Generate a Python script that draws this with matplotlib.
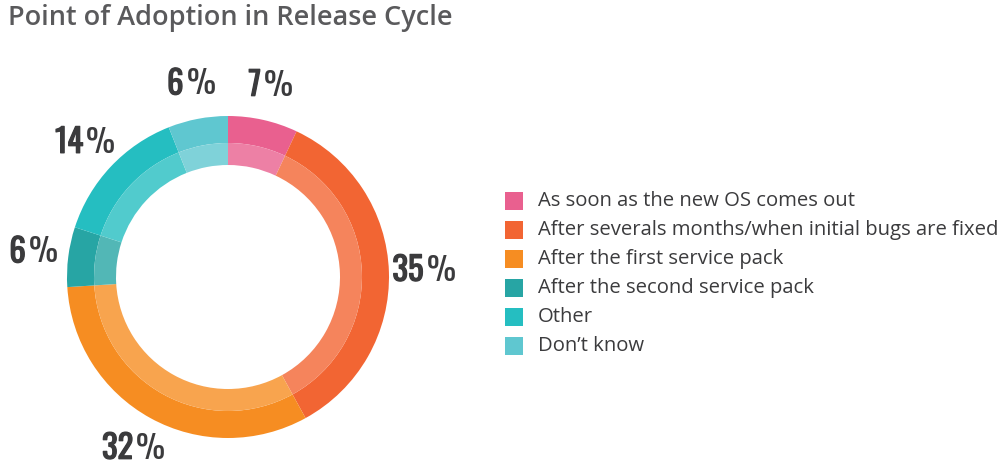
import numpy as np
import matplotlib.pyplot as plt
import matplotlib.patheffects as pe
from matplotlib.patches import Rectangle
from matplotlib.colors import to_rgb

# data
categories = [
    'As soon as the new OS comes out',
    'After severals months/when initial bugs are fixed',
    'After the first service pack',
    'After the second service pack',
    'Other',
    'Don\u2019t know',
]
shares = [7, 35, 32, 6, 14, 6]
colors = ['#E9608F', '#F26533', '#F68D22', '#27A5A4', '#25BEC1', '#5FC7D0']

W, H = 1008, 470
cx, cy = 228, H - 277
r_out, r_mid, r_in = 161, 134, 112
num_font = ['Oswald', 'IBM Plex Sans Condensed', 'DejaVu Sans']
txt_font = ['Open Sans', 'DejaVu Sans']
dark = '#3B3B3D'


def lighten(c, amt=0.2):
    rgb = np.array(to_rgb(c))
    return tuple(rgb + (1 - rgb) * amt)


fig = plt.figure(figsize=(W / 100, H / 100), dpi=100)
ax = fig.add_axes([0, 0, 1, 1])

# outer ring
ax.pie(shares, colors=colors, radius=r_out, center=(cx, cy), startangle=90,
       counterclock=False, wedgeprops=dict(width=r_out - r_mid, linewidth=0))
# lighter inner band
ax.pie(shares, colors=[lighten(c) for c in colors], radius=r_mid,
       center=(cx, cy), startangle=90, counterclock=False,
       wedgeprops=dict(width=r_mid - r_in, linewidth=0))
ax.set_xlim(0, W)
ax.set_ylim(0, H)
ax.set_aspect('equal')
ax.axis('off')

# percentage labels: heavy number, lighter percent sign
total = sum(shares)
start = 0
pairs = []
for s in shares:
    mid = (start + s / 2) / total * 2 * np.pi
    start += s
    rl = 196
    x = cx + rl * np.sin(mid)
    y = cy + rl * np.cos(mid)
    t_num = ax.text(x, y, str(s), ha='left', va='center', fontsize=23.5,
                    family=num_font, fontweight='bold', color=dark,
                    path_effects=[pe.withStroke(linewidth=0.9, foreground=dark)])
    t_pct = ax.text(x, y, '%', ha='left', va='center', fontsize=23.5,
                    family=num_font, fontweight='normal', color=dark)
    pairs.append((x, t_num, t_pct))

fig.canvas.draw()
r = fig.canvas.get_renderer()
gap = 3
for x, t_num, t_pct in pairs:
    wn = t_num.get_window_extent(r).width
    wp = t_pct.get_window_extent(r).width
    x0 = x - (wn + wp + gap) / 2
    t_num.set_x(x0)
    t_pct.set_x(x0 + wn + gap)

# title
fig.text(8 / W, 1 - 18 / H, 'Point of Adoption in Release Cycle', ha='left',
         va='center', fontsize=19.5, family=txt_font, fontweight=600,
         color='#5A5A5C')

# legend
y0 = 201
for i, (lab, c) in enumerate(zip(categories, colors)):
    yy = H - (y0 + i * 29)
    ax.add_patch(Rectangle((505, yy - 9), 18, 18, color=c, linewidth=0))
    ax.text(538, yy, lab, ha='left', va='center', fontsize=14.6,
            family=txt_font, color=dark)

fig.savefig('out.png', dpi=100)
